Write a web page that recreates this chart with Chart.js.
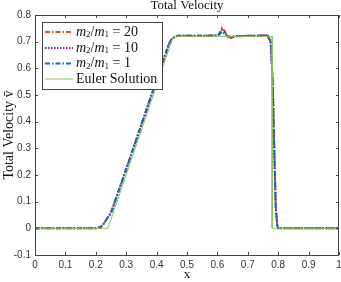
<!DOCTYPE html>
<html><head><meta charset="utf-8">
<script src="https://cdn.jsdelivr.net/npm/chart.js@4.4.0/dist/chart.umd.min.js"></script>
<style>html,body{margin:0;padding:0;background:#fff}#wrap{width:341px;height:282px}</style>
</head><body><div id="wrap"><canvas id="c" width="341" height="282"></canvas></div>
<script>
const xTicks = [0,0.1,0.2,0.3,0.4,0.5,0.6,0.7,0.8,0.9,1];
const yTicks = [-0.1,0,0.1,0.2,0.3,0.4,0.5,0.6,0.7,0.8];
const xNum = [0,0.10,0.20,0.215,0.225,0.235,0.25,0.30,0.35,0.40,0.44,0.45,0.46,0.47,0.50,0.55,0.60,0.605,0.615,0.625,0.635,0.645,0.66,0.70,0.75,0.765,0.775,0.782,0.787,0.792,0.797,0.80,0.85,0.90,0.95,1.0];
const v20 = [0,0,0,0.004,0.015,0.033,0.058,0.222,0.389,0.556,0.69,0.71,0.719,0.722,0.722,0.722,0.723,0.728,0.752,0.738,0.718,0.714,0.72,0.722,0.723,0.724,0.70,0.55,0.30,0.08,0.01,0,0,0,0,0];
const v10 = [0,0,0,0.004,0.015,0.033,0.058,0.222,0.389,0.556,0.69,0.71,0.719,0.722,0.722,0.722,0.723,0.727,0.744,0.733,0.717,0.716,0.72,0.722,0.723,0.724,0.70,0.55,0.30,0.08,0.01,0,0,0,0,0];
const v1  = [0,0,0,0.004,0.015,0.033,0.058,0.222,0.389,0.556,0.69,0.71,0.719,0.722,0.722,0.722,0.723,0.726,0.737,0.729,0.719,0.719,0.721,0.722,0.723,0.724,0.70,0.55,0.30,0.08,0.01,0,0,0,0,0];
const xEuler = [0,0.24,0.455,0.78,0.78,1];
const vEuler = [0,0,0.72,0.72,0,0];
const labels = ['m2/m1 = 20','m2/m1 = 10','m2/m1 = 1','Euler Solution'];

const pts = (xs, ys) => xs.map((x,i)=>({x:x,y:ys[i]}));
const serif = '"Liberation Serif", "DejaVu Serif", serif';
const sans = '"Liberation Sans", Arial, sans-serif';

const datasets = [
  {label:labels[0], data:pts(xNum,v20), borderColor:'#D95319', borderWidth:2, borderDash:[5,2,1.5,2], order:3},
  {label:labels[1], data:pts(xNum,v10), borderColor:'#7E2F8E', borderWidth:2, borderDash:[1.5,1.5], order:2},
  {label:labels[2], data:pts(xNum,v1), borderColor:'#0072BD', borderWidth:2, borderDash:[5,2,1.5,2], order:1},
  {label:labels[3], data:pts(xEuler,vEuler), borderColor:'#8DC05A', borderWidth:1, order:0}
];
datasets.forEach(d=>{d.showLine=true;d.pointRadius=0;d.fill=false;d.tension=0;});

const deco = {
  id:'deco',
  afterDatasetsDraw(chart){
    const ctx = chart.ctx, a = chart.chartArea;
    const xs = chart.scales.x, ys = chart.scales.y;
    ctx.save();
    ctx.strokeStyle = '#444'; ctx.lineWidth = 1;
    ctx.strokeRect(Math.round(a.left)+0.5, Math.round(a.top)+0.5, Math.round(a.right-a.left)-1, Math.round(a.bottom-a.top));
    ctx.beginPath();
    xTicks.forEach(t=>{const p=Math.round(xs.getPixelForValue(t))+0.5;
      ctx.moveTo(p,a.bottom);ctx.lineTo(p,a.bottom-3);ctx.moveTo(p,a.top);ctx.lineTo(p,a.top+3);});
    yTicks.forEach(t=>{const p=Math.round(ys.getPixelForValue(t))+0.5;
      ctx.moveTo(a.left,p);ctx.lineTo(a.left+3,p);ctx.moveTo(a.right,p);ctx.lineTo(a.right-3,p);});
    ctx.stroke();
    // title
    ctx.fillStyle = '#111'; ctx.font = '13px '+serif; ctx.textAlign='center'; ctx.textBaseline='middle';
    ctx.fillText('Total Velocity', (a.left+a.right)/2, 6);
    // legend
    const lx = a.left+7, ly = a.top+7, lw = 120, lh = 67;
    ctx.fillStyle='#fff'; ctx.fillRect(lx,ly,lw,lh);
    ctx.strokeStyle='#444'; ctx.lineWidth=1; ctx.strokeRect(lx+0.5,ly+0.5,lw,lh);
    const rows = [ly+10, ly+26, ly+41.5, ly+57];
    const nums = ['20','10','1'];
    datasets.forEach((d,i)=>{
      const y = rows[i];
      ctx.beginPath(); ctx.strokeStyle=d.borderColor; ctx.lineWidth=d.borderWidth;
      ctx.setLineDash(d.borderDash||[]); ctx.moveTo(lx+3,y); ctx.lineTo(lx+31,y); ctx.stroke(); ctx.setLineDash([]);
      ctx.fillStyle='#111'; ctx.textAlign='left'; ctx.textBaseline='middle';
      let x = lx+34;
      if(i<3){
        const seg = [['m','italic 14px '+serif,0],['2','9px '+serif,3],['/','14px '+serif,0],['m','italic 14px '+serif,0],['1','9px '+serif,3],[' = '+nums[i],'14px '+serif,0]];
        seg.forEach(s=>{ctx.font=s[1]; ctx.fillText(s[0],x,y+s[2]); x+=ctx.measureText(s[0]).width;});
      } else {
        ctx.font='14px '+serif; ctx.fillText('Euler Solution',x,y);
      }
    });
    ctx.restore();
  }
};

new Chart(document.getElementById('c'), {
  type:'scatter',
  data:{datasets:datasets},
  options:{
    responsive:false, animation:false,
    layout:{padding:{top:15,right:2,left:0,bottom:0}},
    plugins:{legend:{display:false},tooltip:{enabled:false},title:{display:false}},
    scales:{
      x:{type:'linear',min:0,max:1,
        afterBuildTicks(s){s.ticks=xTicks.map(v=>({value:v}));},
        afterFit(s){s.height=27;s.paddingRight=0;s.paddingLeft=0;},
        grid:{display:false,drawTicks:false},border:{display:false},
        ticks:{font:{family:sans,size:10},color:'#333',padding:4,maxRotation:0,callback:v=>String(+v.toFixed(1))},
        title:{display:true,text:'x',font:{family:serif,size:13},color:'#111',padding:{top:0,bottom:0}}},
      y:{type:'linear',min:-0.1,max:0.8,
        afterBuildTicks(s){s.ticks=yTicks.map(v=>({value:v}));},
        afterFit(s){s.width=35;s.paddingTop=0;s.paddingBottom=0;},
        grid:{display:false,drawTicks:false},border:{display:false},
        ticks:{font:{family:sans,size:10},color:'#333',padding:4,callback:v=>String(+v.toFixed(1))},
        title:{display:true,text:'Total Velocity v\u0304',font:{family:serif,size:14},color:'#111',padding:{top:1,bottom:0}}}
    }
  },
  plugins:[deco]
});
</script></body></html>
